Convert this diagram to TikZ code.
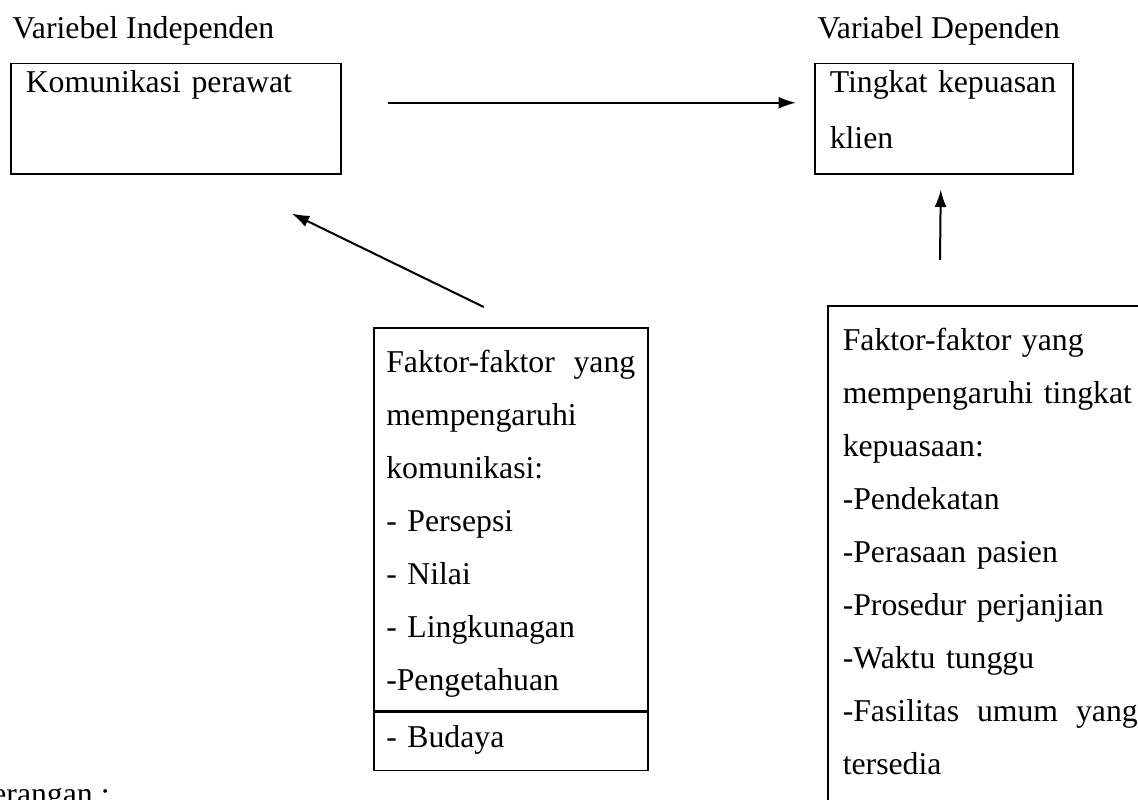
\documentclass[tikz,border=0pt]{standalone}
\usepackage{fontspec}
\setmainfont{Liberation Serif}
\usetikzlibrary{arrows.meta,positioning}
\newcommand{\ratakan}[1]{\leavevmode\hbox to \hsize{#1}}
\tikzset{
	kotak/.style={draw, line width=0.6pt, anchor=north west, inner ysep=0pt, inner xsep=6pt, align=left},
	judul/.style={anchor=base west, inner sep=0pt},
	panah/.style={-{Latex[length=7pt,width=4.8pt]}, line width=0.8pt}
}

\begin{document}
\begin{tikzpicture}[x=0.4pt, y=-0.4pt, font=\fontsize{12.7}{15}\selectfont]
	\useasboundingbox (0,0) rectangle (1138,799);

	% judul variabel
	\node[judul] (judulind) at (12,39) {Variebel Independen};
	\node[judul] (juduldep) at (817,39) {Variabel Dependen};

	% kotak variabel
	\node[kotak, text width=120pt, text height=11.6pt, text depth=32.4pt] (kom) at (10,63) {Komunikasi perawat};
	\node[kotak, text width=91.2pt, text height=11.6pt, text depth=32.4pt,
		font=\fontsize{12.7}{22.4}\selectfont] (puas) at (814,63) {Tingkat kepuasan\\klien};

	% faktor komunikasi
	\node[kotak, inner xsep=5pt, text width=99.6pt, text height=18pt, text depth=135.2pt,
		font=\fontsize{12.7}{21.2}\selectfont] (faktorkom) at (373,327)
		{\ratakan{Faktor-faktor\hfill yang}\\mempengaruhi\\komunikasi:\\- Persepsi\\- Nilai\\- Lingkunagan\\-Pengetahuan};
	\node[kotak, inner xsep=5pt, text width=99.6pt, text height=14pt, text depth=9.2pt,
		below=0pt of faktorkom] (budaya) {- Budaya};

	% faktor kepuasan
	\node[kotak, text width=118pt, text height=18pt, text depth=197.2pt,
		font=\fontsize{12.7}{21.2}\selectfont] (faktorpuas) at (827,305)
		{Faktor-faktor yang\\mempengaruhi tingkat\\kepuasaan:\\-Pendekatan\\-Perasaan pasien\\-Prosedur perjanjian\\-Waktu tunggu\\\ratakan{-Fasilitas\hfill umum\hfill yang}\\tersedia};

	% panah
	\draw[panah] ([shift={(46,-16)}]kom.east) -- ([shift={(-18,-16)}]puas.west);
	\draw[panah] ([shift={(-27,-20)}]faktorkom.north) -- ([shift={(116,39)}]kom.south);
	\draw[panah] ([shift={(113,-45)}]faktorpuas.north west) -- ([shift={(-3,15)}]puas.south);

	\node[judul] (ket) at (-54,804) {Keterangan :};
\end{tikzpicture}
\end{document}
